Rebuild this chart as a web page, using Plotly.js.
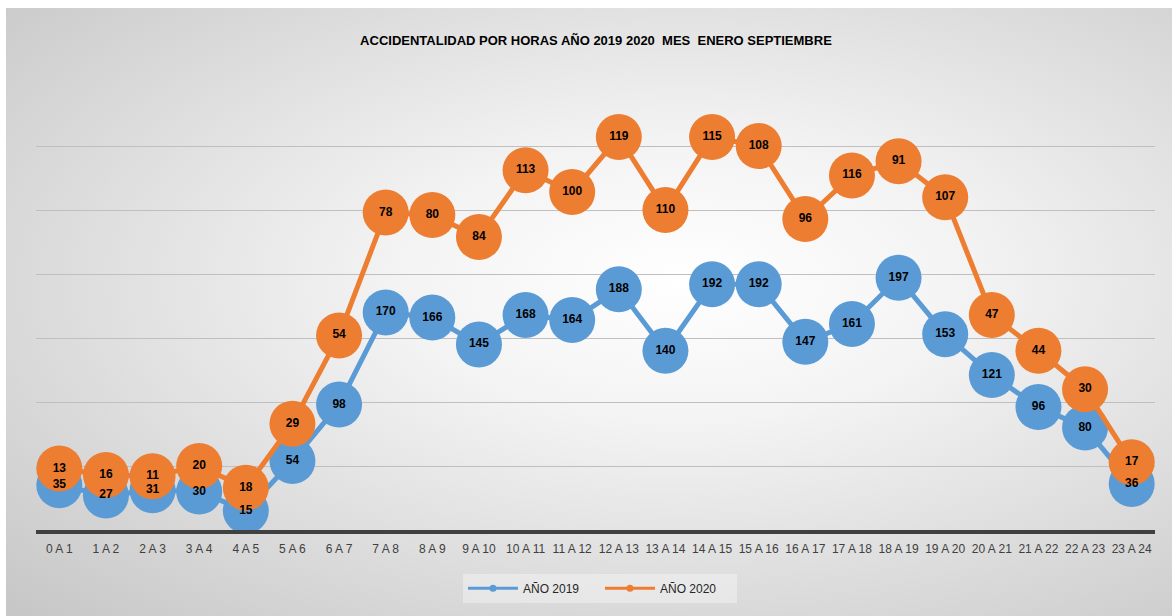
<!DOCTYPE html>
<html>
<head>
<meta charset="utf-8">
<script src="https://cdn.plot.ly/plotly-3.0.1.min.js"></script>
<style>
  html, body { margin: 0; padding: 0; background: #ffffff; }
  #wrap { position: relative; width: 1172px; height: 616px; overflow: hidden; }
  #bg { position: absolute; left: 6px; top: 8px; width: 1166px; height: 608px;
        background: radial-gradient(ellipse farthest-corner at 58% 45%, #ffffff 0%, #f3f3f3 30%, #c6c6c6 100%); }
  #chart { position: absolute; left: 0; top: 0; width: 1172px; height: 616px; }
</style>
</head>
<body>
<div id="wrap"><div id="bg"></div><div id="chart"></div></div>
<script>
const categories = ["0 A 1","1 A 2","2 A 3","3 A 4","4 A 5","5 A 6","6 A 7","7 A 8","8 A 9","9 A 10","10 A 11","11 A 12","12 A 13","13 A 14","14 A 15","15 A 16","16 A 17","17 A 18","18 A 19","19 A 20","20 A 21","21 A 22","22 A 23","23 A 24"];
const anio2019 = [35,27,31,30,15,54,98,170,166,145,168,164,188,140,192,192,147,161,197,153,121,96,80,36];
const anio2020 = [13,16,11,20,18,29,54,78,80,84,113,100,119,110,115,108,96,116,91,107,47,44,30,17];
const seriesNames = ["AÑO 2019","AÑO 2020"];
const colors = ["#5B9BD5","#ED7D31"];

const labelFont = {family: "Liberation Sans, Arial, sans-serif", size: 12, color: "#000000", weight: "bold"};

const traces = [
  {x: categories, y: anio2019, name: seriesNames[0], stackgroup: "lines", fill: "none",
   mode: "lines+markers", line: {color: colors[0], width: 5},
   marker: {color: colors[0], size: 46}, showlegend: false, hoverinfo: "x+text", text: anio2019},
  {x: categories, y: anio2020, name: seriesNames[1], stackgroup: "lines", fill: "none",
   mode: "lines+markers", line: {color: colors[1], width: 5},
   marker: {color: colors[1], size: 46}, showlegend: false, hoverinfo: "x+text", text: anio2020},
  {x: categories, y: anio2019, stackgroup: "labels", fill: "none", mode: "text",
   text: anio2019.map(String), textposition: "middle center", textfont: labelFont,
   showlegend: false, hoverinfo: "skip"},
  {x: categories, y: anio2020, stackgroup: "labels", fill: "none", mode: "text",
   text: anio2020.map(String), textposition: "middle center", textfont: labelFont,
   showlegend: false, hoverinfo: "skip"},
  {x: [null], y: [null], name: seriesNames[0], mode: "lines+markers",
   line: {color: colors[0], width: 3}, marker: {color: colors[0], size: 7}, hoverinfo: "skip"},
  {x: [null], y: [null], name: seriesNames[1], mode: "lines+markers",
   line: {color: colors[1], width: 3}, marker: {color: colors[1], size: 7}, hoverinfo: "skip"}
];

const layout = {
  width: 1172, height: 616,
  paper_bgcolor: "rgba(0,0,0,0)", plot_bgcolor: "rgba(0,0,0,0)",
  margin: {l: 36, r: 17, t: 82, b: 86},
  title: {text: "ACCIDENTALIDAD POR HORAS AÑO 2019 2020  MES  ENERO SEPTIEMBRE",
          font: {family: "Liberation Sans, Arial, sans-serif", size: 13, color: "#000000", weight: "bold"},
          x: 0.5085, xref: "container", xanchor: "center", y: 0.935, yref: "container", yanchor: "middle"},
  xaxis: {type: "category", range: [-0.5, 23.5], showgrid: false, zeroline: false,
          showline: true, linecolor: "#404040", linewidth: 4, ticks: "", ticklabelstandoff: 5,
          tickfont: {family: "Liberation Sans, Arial, sans-serif", size: 12, color: "#404040"},
          fixedrange: true},
  yaxis: {range: [0, 350], dtick: 50, showticklabels: false, gridcolor: "#bfbfbf", gridwidth: 1,
          zeroline: false, showline: false, fixedrange: true},
  legend: {orientation: "h", x: 0.504, xanchor: "center", y: -0.13, yanchor: "middle",
           bgcolor: "rgba(255,255,255,0.35)", borderwidth: 0,
           font: {family: "Liberation Sans, Arial, sans-serif", size: 12, color: "#262626"},
           itemwidth: 50, entrywidth: 72, traceorder: "normal"},
  showlegend: true
};

Plotly.newPlot("chart", traces, layout, {displayModeBar: false, staticPlot: false});
</script>
</body>
</html>
